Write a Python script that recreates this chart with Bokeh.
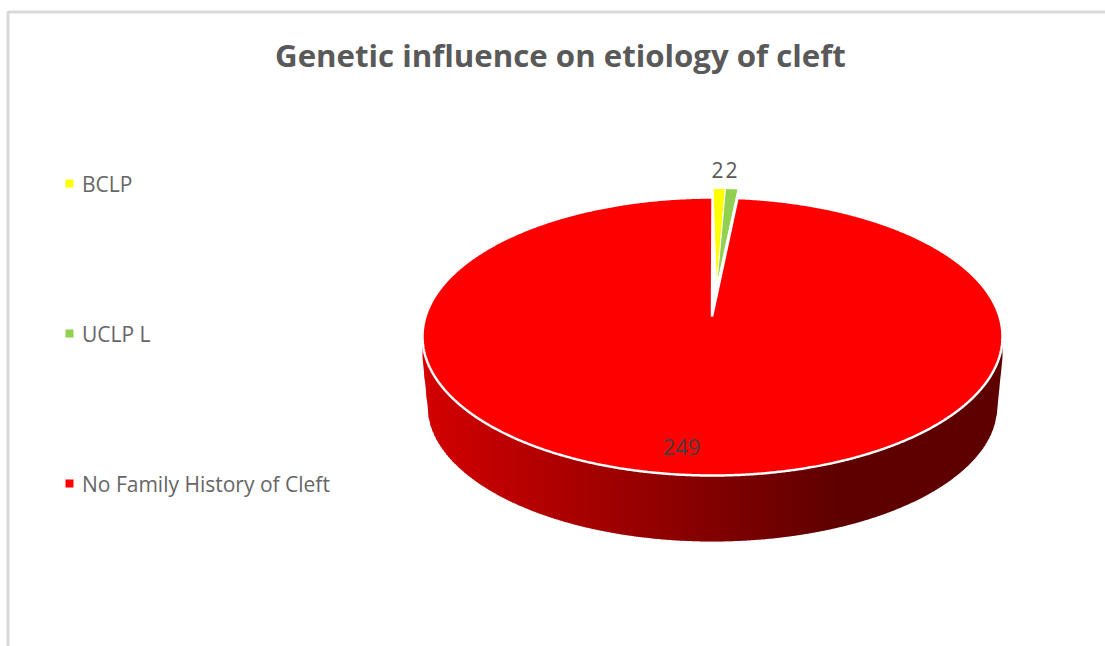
import math
from bokeh.plotting import figure
from bokeh.models import Range1d
from bokeh.core.properties import value
from bokeh.embed import file_html
from bokeh.resources import INLINE

title = "Genetic influence on etiology of cleft"
categories = ["BCLP", "UCLP L", "No Family History of Cleft"]
counts = [2, 2, 249]
colors = ["#ffff00", "#92d050", "#ff0000"]
legend_y = [183, 333, 483]

W, H = 1105, 646
p = figure(width=W, height=H, output_backend="svg", toolbar_location=None,
           x_range=Range1d(0, W), y_range=Range1d(H, 0),
           min_border=0, outline_line_color=None)
p.axis.visible = False
p.grid.visible = False

# chart frame (top and left edges only)
p.line([7.5, 7.5, 1105], [646, 11.5, 11.5], line_color="#d9d9d9", line_width=3)

cx, cy, rx, ry = 712.0, 336.0, 290.0, 139.0
vy = 316.0
bcy, brx, bry = 405.0, 285.0, 136.0
edge_y = 357.0

def top_y(x):
    return cy + ry * math.sqrt(max(0.0, 1 - ((x - cx) / rx) ** 2))

def bot_y(x):
    d = abs(x - cx)
    if d >= brx:
        return edge_y + (rx - d) / (rx - brx) * (bcy - edge_y)
    return bcy + bry * math.sqrt(1 - (d / brx) ** 2)

# shaded side wall
xs, ys, cs = [], [], []
x = cx - rx
step = 2.0
while x < cx + rx:
    x2 = min(x + step, cx + rx)
    t = (x + x2) / 2
    f = min(1.0, (t - 422) / 420.0)
    r = int(round(212 + (94 - 212) * f))
    xb = min(x2 + 0.6, cx + rx)
    ya, yb = top_y(x) - 4, top_y(xb) - 4
    xs.append([x, xb, xb, x])
    ys.append([ya, yb, max(bot_y(xb), yb), max(bot_y(x), ya)])
    cs.append("#%02x0000" % r)
    x = x2
p.patches(xs, ys, fill_color=cs, line_color=None)

# top face slices from the counts
total = sum(counts)
warp = 0.87
angle = 0.0
for n, col in zip(counts, colors):
    a0, a1 = angle, angle + n / total * 2 * math.pi
    angle = a1
    big = a1 - a0 > math.pi
    b0 = a0 * warp
    b1 = a1 if big else a1 * warp
    k = max(2, int((b1 - b0) / 0.005))
    dx, dy = (0.0, 0.0) if big else (0.5, -9.0)
    px = [cx + dx + rx * math.sin(b0 + (b1 - b0) * i / k) for i in range(k + 1)]
    py = [cy + dy - ry * math.cos(b0 + (b1 - b0) * i / k) for i in range(k + 1)]
    apex = (cx - 0.5, vy) if big else (716.0, 287.0)
    p.patch(px + [apex[0]], py + [apex[1]], fill_color=col, line_color="white", line_width=2.5 if big else 1)

# data labels
p.text([717, 731], [169, 169], text=[str(counts[0]), str(counts[1])], text_align="center",
       text_baseline="middle", text_font=value("Open Sans"), text_font_size="21px", text_color="#595959")
p.text([681], [446.5], text=[str(counts[2])], text_align="center", text_baseline="middle",
       text_font=value("Open Sans"), text_font_size="22px", text_color="#404040")

# legend
p.scatter([69] * 3, legend_y, marker="square", size=8, fill_color=colors, line_color=None)
p.text([81.5] * 3, legend_y, text=categories, text_align="left", text_baseline="middle",
       text_font=value("Open Sans"), text_font_size="21px", text_color="#666666")

# title
p.text([560], [54.5], text=[title], text_align="center", text_baseline="middle",
       text_font=value("Open Sans"), text_font_style="bold", text_font_size="31.2px", text_color="#595959")

open("out.html", "w").write(file_html(p, INLINE))
